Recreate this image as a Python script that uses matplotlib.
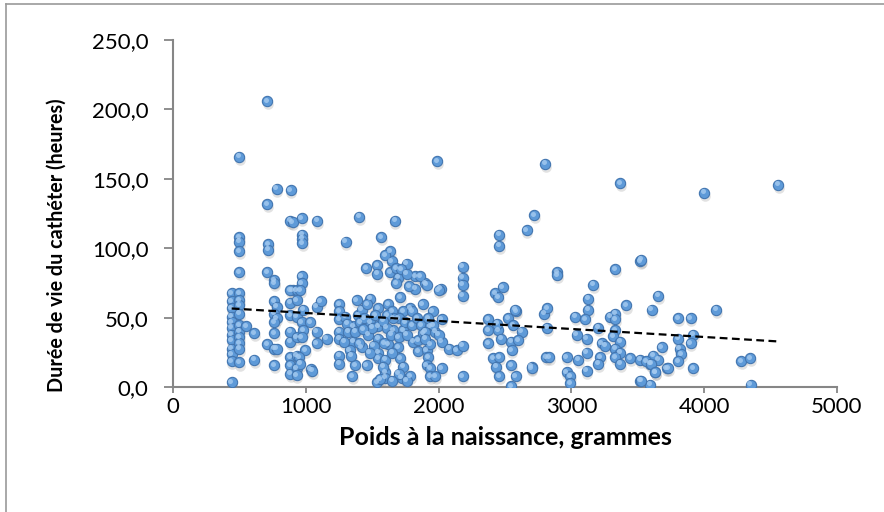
import numpy as np
import matplotlib
matplotlib.use("Agg")
import matplotlib.pyplot as plt
import matplotlib.transforms as mtransforms
from matplotlib.lines import Line2D

# poids à la naissance (g) / durée de vie du cathéter (h)
poids = [
    442, 442, 442, 442, 442, 442, 442, 442, 442, 442, 442, 442,
    497, 497, 497, 497, 497, 500, 500, 500, 500, 500, 500, 500, 500, 500, 500,
    550, 612, 612, 710, 710, 715, 715, 710, 710,
    780, 763, 763, 763, 780, 763, 780, 763, 763, 763, 780, 763,
    886, 880, 901, 901, 881, 881, 881, 881, 881, 881, 881, 881,
    931, 931, 931, 931, 931, 931, 931,
    969, 975, 975, 975, 969, 969, 956, 981, 969, 981, 969, 994, 951, 956,
    1037, 1032, 1082, 1112, 1082, 1082, 1084, 1157, 1050,
    1252, 1252, 1252, 1252, 1252, 1252, 1252, 1295, 1300,
    1383, 1358, 1358, 1370, 1349, 1400, 1453, 1421, 1458, 1483, 1483,
    1539, 1539, 1546, 1546, 1546, 1546, 1546, 1539, 1596, 1596, 1566,
    1310, 1320, 1330, 1340, 1395, 1410, 1420, 1440, 1460, 1470, 1500, 1510, 1520, 1480, 1290, 1370, 1400, 1430,
    1634, 1647, 1634, 1697, 1709, 1760, 1822, 1825, 1785, 1734, 1734, 1659, 1609, 1622,
    1697, 1709, 1734, 1722, 1785, 1847, 1810, 1847, 1885, 1910, 1922, 1910, 1898, 1670,
    1600, 1680, 1720, 1760, 1780, 1680, 1620, 1650, 1700, 1750, 1800, 1660, 1610, 1580, 1640, 1700, 1760, 1800, 1840, 1870,
    1600, 1580, 1650, 1700, 1760, 1650, 1560, 1590,
    1910, 2016, 2000, 1860, 1955, 2023, 1935, 1973, 1898, 1935, 2023, 2081, 2136, 1935, 2023, 1935, 1973,
    2181, 1990, 1880, 1920, 1960, 1900, 2000, 2181, 2181, 2181, 2181, 2181,
    2425, 2483, 2450, 2583, 2374, 2374, 2450, 2525, 2560, 2626, 2470, 2545, 2600, 2374, 2550,
    2412, 2455, 2435, 2545, 2701, 2455, 2580, 2545, 2455, 2455, 2663, 2721, 2801, 2575, 2440, 2700,
    2794, 2820, 2820, 2810, 2894, 2894,
    3328, 3517, 3165, 3128, 3128, 3027, 3102, 3411, 3655, 3605, 3291, 3328, 3328, 3203, 3328,
    3040, 3115, 3228, 3316, 3366, 3253, 3328, 3366, 3328, 3216, 3203, 3366, 3441, 3517, 3592,
    3655, 3617, 3680, 3718, 3115, 3115, 3052, 2965, 2834, 2965, 2990, 2989, 3629, 3517, 3592, 3366,
    3524, 3805, 3898, 4089, 3918, 3805, 3898, 3815, 3825, 3565, 3600, 3805, 3730, 3914, 3630, 3524,
    4277, 4345, 4350, 3998, 4556,
]
duree = [
    68, 62, 57, 51, 47, 43, 38, 34, 28, 24, 19, 4,
    166, 108, 105, 98, 83, 68, 63, 59, 53, 45, 40, 36, 32, 28, 18,
    44, 39, 20, 206, 132, 103, 99, 83, 31,
    143, 77, 75, 62, 58, 53, 50, 47, 39, 28, 28, 16,
    142, 120, 119, 70, 70, 61, 52, 40, 33, 22, 16, 10,
    70, 63, 51, 36, 23, 14, 9,
    122, 110, 107, 104, 80, 75, 70, 56, 47, 41, 36, 27, 22, 17,
    13, 47, 58, 62, 40, 32, 120, 35, 12,
    60, 55, 49, 40, 35, 23, 17, 51, 105,
    63, 44, 33, 16, 8, 123, 86, 29, 16, 64, 47,
    88, 82, 57, 44, 35, 25, 21, 4, 11, 7, 108,
    46, 40, 27, 23, 52, 47, 56, 50, 60, 38, 43, 30, 52, 25, 33, 40, 32, 42,
    98, 91, 83, 79, 65, 89, 80, 71, 57, 55, 41, 41, 43, 31,
    29, 21, 15, 7, 8, 26, 33, 34, 39, 27, 22, 16, 75, 120,
    95, 86, 85, 82, 73, 75, 60, 55, 50, 47, 45, 50, 52, 48, 38, 36, 38, 55, 50, 45,
    20, 15, 25, 10, 5, 5, 6, 32,
    74, 71, 70, 80, 55, 49, 44, 40, 40, 31, 33, 28, 27, 14, 14, 8, 8,
    8, 163, 60, 50, 45, 35, 38, 87, 79, 74, 66, 30,
    68, 72, 65, 55, 49, 41, 41, 50, 45, 40, 35, 33, 34, 32, 27,
    21, 22, 15, 16, 15, 8, 8, 1, 110, 102, 113, 124, 161, 56, 46, 14,
    53, 57, 43, 22, 83, 81,
    85, 91, 74, 64, 56, 51, 49, 59, 66, 56, 51, 53, 49, 43, 41,
    38, 35, 32, 37, 33, 30, 28, 25, 22, 22, 17, 17, 21, 20, 17,
    20, 23, 29, 14, 25, 12, 20, 22, 22, 11, 8, 3, 11, 5, 2, 147,
    92, 50, 50, 56, 38, 35, 32, 28, 24, 19, 17, 19, 14, 14, 11, 5,
    19, 21, 2, 140, 146,
]
assert len(poids) == len(duree)

x_ticks = [0, 1000, 2000, 3000, 4000, 5000]
y_ticks = [0, 50, 100, 150, 200, 250]
y_labels = ["0,0", "50,0", "100,0", "150,0", "200,0", "250,0"]

plt.rcParams['font.family'] = ['Lato', 'DejaVu Sans']

fig = plt.figure(figsize=(8.84, 5.12), dpi=100)
ax = fig.add_axes([0.1957, 0.2432, 0.7511, 0.6787])

# ombre + point + reflet, façon Excel
shadow = ax.transData + mtransforms.ScaledTranslation(0.5/72, -2.2/72, fig.dpi_scale_trans)
shine = ax.transData + mtransforms.ScaledTranslation(-0.9/72, 1.0/72, fig.dpi_scale_trans)
ax.scatter(poids, duree, s=58, color='#7f7f7f', alpha=0.22, linewidths=0, transform=shadow, zorder=2)
ax.scatter(poids, duree, s=55, facecolor='#5e9ad8', edgecolor='#4376b0', linewidths=0.8, zorder=3)
ax.scatter(poids, duree, s=13, color='#a6cbf0', alpha=0.8, linewidths=0, transform=shine, zorder=4)

# courbe de tendance linéaire
a, b = np.polyfit(poids, duree, 1)
xt = np.array([min(poids), max(poids)])
ax.plot(xt, a * xt + b, color='black', lw=1.6, ls=(0, (3.5, 2)), zorder=5)

ax.set_xlim(0, 5000)
ax.set_ylim(0, 250)
ax.set_xticks(x_ticks)
ax.set_yticks(y_ticks)
ax.set_yticklabels(y_labels)
ax.tick_params(axis='both', direction='out', width=1.3, color='#868686',
               labelsize=16, labelcolor='black')
ax.tick_params(axis='x', length=4.5, pad=2)
ax.tick_params(axis='y', length=6.5, pad=11)
for side in ['top', 'right']:
    ax.spines[side].set_visible(False)
for side in ['left', 'bottom']:
    ax.spines[side].set_color('#868686')
    ax.spines[side].set_linewidth(1.5)

ax.set_xlabel("Poids à la naissance, grammes", fontsize=18, fontweight='bold', labelpad=7)
ax.set_ylabel("Durée de vie du cathéter (heures)", fontsize=14.2, fontweight='bold')
ax.yaxis.set_label_coords(-0.160, 0.41)

# cadre de la zone de graphique (coupé à droite et en bas)
fig.add_artist(Line2D([6/884, 6/884], [0, 1 - 4/512], color='#9a9a9a', lw=1.2))
fig.add_artist(Line2D([6/884, 1], [1 - 4/512, 1 - 4/512], color='#9a9a9a', lw=1.2))

fig.savefig('out.png', dpi=100)
